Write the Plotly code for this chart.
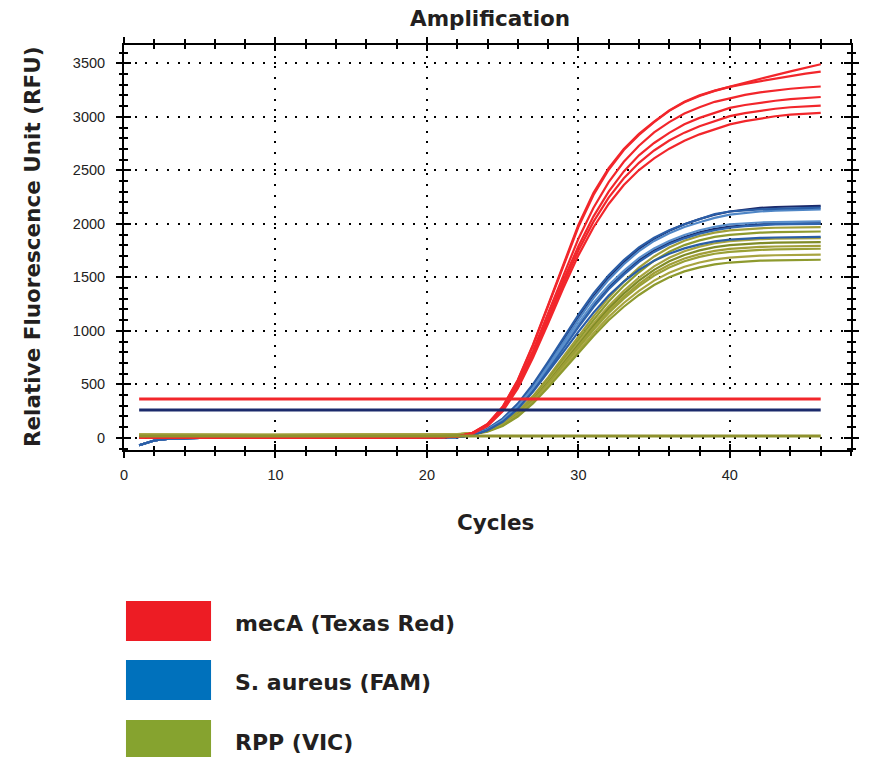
import plotly.graph_objects as go

# ---------------- data ----------------
cycles = list(range(1, 47))

# baseline readings, cycles 1-21
red_base = [4, 3, 2, 2, 1, 1, 1, 0, 0, 0, 0, 0, 0, 0, 0, 1, 1, 1, 2, 3, 5]
blue_base = [-70, -25, -8, -3, -1, 0, 0, 0, 0, 0, 0, 0, 0, 0, 0, 0, 1, 1, 1, 2, 3]
green_base_hi = [30, 29, 28, 28, 28, 28, 28, 28, 28, 28, 28, 28, 28, 28, 28, 28, 28, 28, 28, 28, 29]
green_base_lo = [8, 8, 8, 8, 8, 8, 8, 8, 8, 8, 8, 8, 8, 8, 8, 8, 8, 9, 10, 12, 16]

# mecA (Texas Red) curves, cycles 22-46
mecA_1 = red_base + [12, 45, 130, 290, 540, 870, 1240, 1620, 1990, 2290, 2520, 2700, 2840, 2955, 3060, 3140, 3200, 3245, 3283, 3320, 3355, 3390, 3425, 3460, 3491]
mecA_2 = red_base + [12, 45, 128, 287, 535, 862, 1230, 1605, 1970, 2270, 2505, 2690, 2830, 2950, 3055, 3135, 3195, 3242, 3280, 3308, 3333, 3358, 3382, 3403, 3422]
mecA_3 = red_base + [11, 42, 122, 272, 505, 815, 1165, 1520, 1860, 2150, 2390, 2580, 2730, 2855, 2950, 3030, 3090, 3140, 3176, 3205, 3228, 3247, 3262, 3274, 3283]
mecA_4 = red_base + [11, 41, 118, 262, 490, 790, 1125, 1470, 1790, 2070, 2300, 2490, 2640, 2755, 2850, 2930, 2990, 3040, 3083, 3110, 3133, 3150, 3165, 3176, 3185]
mecA_5 = red_base + [10, 40, 115, 255, 475, 768, 1095, 1435, 1750, 2020, 2245, 2425, 2570, 2685, 2778, 2852, 2912, 2962, 3006, 3035, 3058, 3075, 3089, 3098, 3105]
mecA_6 = red_base + [10, 38, 110, 248, 462, 748, 1068, 1398, 1705, 1968, 2185, 2362, 2502, 2612, 2702, 2777, 2836, 2886, 2929, 2960, 2985, 3005, 3020, 3030, 3037]

# S. aureus (FAM) curves, cycles 22-46
saur_1 = blue_base + [8, 30, 85, 180, 320, 500, 710, 930, 1150, 1350, 1520, 1660, 1780, 1870, 1940, 1995, 2040, 2090, 2115, 2127, 2135, 2140, 2145, 2148, 2152]
saur_2 = blue_base + [7, 28, 80, 172, 308, 485, 690, 905, 1122, 1322, 1495, 1640, 1765, 1860, 1935, 1995, 2045, 2085, 2115, 2135, 2148, 2157, 2162, 2166, 2168]
saur_3 = blue_base + [7, 27, 78, 168, 300, 475, 678, 890, 1105, 1305, 1478, 1622, 1745, 1840, 1912, 1970, 2015, 2055, 2085, 2103, 2115, 2123, 2128, 2132, 2135]
saur_4 = blue_base + [7, 27, 78, 165, 295, 465, 660, 865, 1070, 1260, 1425, 1560, 1680, 1770, 1840, 1895, 1940, 1972, 1995, 2005, 2012, 2016, 2019, 2021, 2022]
saur_5 = blue_base + [6, 25, 74, 158, 285, 450, 642, 845, 1048, 1238, 1403, 1540, 1660, 1752, 1822, 1877, 1920, 1952, 1975, 1988, 1996, 2001, 2004, 2006, 2008]
saur_6 = blue_base + [6, 24, 72, 155, 280, 443, 632, 833, 1035, 1222, 1388, 1525, 1644, 1737, 1808, 1864, 1908, 1940, 1963, 1978, 1988, 1994, 1997, 1999, 2000]
saur_7 = blue_base + [6, 24, 70, 150, 270, 430, 610, 800, 990, 1170, 1330, 1460, 1570, 1655, 1720, 1770, 1808, 1835, 1852, 1862, 1868, 1872, 1875, 1877, 1878]

# RPP (VIC) curves, cycles 22-46
rpp_1 = green_base_hi + [34, 46, 78, 140, 245, 390, 565, 755, 950, 1135, 1310, 1460, 1590, 1695, 1778, 1842, 1886, 1918, 1938, 1950, 1958, 1963, 1966, 1968, 1969]
rpp_2 = green_base_lo + [24, 35, 66, 127, 230, 372, 543, 729, 920, 1101, 1273, 1420, 1547, 1655, 1738, 1801, 1845, 1878, 1897, 1909, 1917, 1922, 1925, 1927, 1928]
rpp_3 = green_base_hi + [33, 44, 72, 128, 226, 362, 528, 708, 892, 1068, 1232, 1375, 1498, 1602, 1683, 1744, 1787, 1818, 1837, 1849, 1856, 1861, 1864, 1865, 1866]
rpp_4 = green_base_lo + [23, 34, 63, 121, 218, 353, 516, 692, 873, 1045, 1208, 1347, 1468, 1570, 1649, 1709, 1751, 1782, 1800, 1812, 1819, 1824, 1826, 1828, 1829]
rpp_5 = green_base_hi + [33, 43, 68, 122, 216, 348, 507, 680, 856, 1025, 1184, 1321, 1439, 1540, 1617, 1676, 1717, 1747, 1765, 1776, 1784, 1788, 1791, 1793, 1794]
rpp_6 = green_base_lo + [22, 33, 61, 117, 211, 341, 498, 668, 843, 1009, 1166, 1301, 1417, 1516, 1592, 1650, 1691, 1720, 1738, 1749, 1756, 1761, 1763, 1765, 1767]
rpp_7 = green_base_hi + [32, 42, 66, 117, 206, 331, 483, 647, 817, 978, 1130, 1260, 1373, 1469, 1542, 1599, 1638, 1667, 1684, 1695, 1702, 1706, 1708, 1710, 1711]
rpp_8 = green_base_lo + [22, 32, 58, 110, 199, 321, 469, 630, 794, 951, 1099, 1225, 1335, 1428, 1500, 1555, 1593, 1621, 1638, 1648, 1655, 1659, 1661, 1663, 1664]

# threshold levels
threshold_cycles = [1, 46]
thr_mecA = [362, 362]
thr_saur = [260, 260]
thr_rpp = [18, 18]

legend_labels = ["mecA (Texas Red)", "S. aureus (FAM)", "RPP (VIC)"]
legend_colors = ["#ED1C24", "#0071BC", "#86A32F"]

# ---------------- figure ----------------
fig = go.Figure()

green_cols = ["#A19E38", "#8E9A2E", "#A8A440", "#7F8B27", "#A19E38", "#9AA036", "#A8A440", "#8E9A2E"]
for ys, c in zip([rpp_1, rpp_2, rpp_3, rpp_4, rpp_5, rpp_6, rpp_7, rpp_8], green_cols):
    fig.add_trace(go.Scatter(x=cycles, y=ys, mode="lines", line=dict(color=c, width=2.2),
                             showlegend=False, hoverinfo="skip"))

blue_cols = ["#1B2A6B", "#4F86C6", "#2A5DA6", "#1B2A6B", "#2E64AE", "#5A8FCB", "#2A5DA6"]
for ys, c in zip([saur_2, saur_3, saur_1, saur_5, saur_6, saur_4, saur_7], blue_cols):
    fig.add_trace(go.Scatter(x=cycles, y=ys, mode="lines", line=dict(color=c, width=2.2),
                             showlegend=False, hoverinfo="skip"))

for ys in [mecA_1, mecA_2, mecA_3, mecA_4, mecA_5, mecA_6]:
    fig.add_trace(go.Scatter(x=cycles, y=ys, mode="lines", line=dict(color="#F2262B", width=2.2),
                             showlegend=False, hoverinfo="skip"))

for ys, c in zip([thr_rpp, thr_saur, thr_mecA], ["#8F922E", "#1B2A6B", "#F2262B"]):
    fig.add_trace(go.Scatter(x=threshold_cycles, y=ys, mode="lines", line=dict(color=c, width=3),
                             showlegend=False, hoverinfo="skip"))

# invisible trace on overlay axes (inner halves of the crossing ticks)
fig.add_trace(go.Scatter(x=[0], y=[0], xaxis="x2", yaxis="y2", mode="markers",
                         marker=dict(opacity=0), showlegend=False, hoverinfo="skip"))

XR = [0, 48]
YR = [-114, 3671]
tickfont = dict(family="Liberation Sans, Arial", size=14.5, color="#222222")

fig.update_layout(
    width=871, height=757,
    margin=dict(l=124, r=12, t=45, b=307),
    paper_bgcolor="white", plot_bgcolor="white",
    xaxis=dict(range=XR, tickvals=[0, 10, 20, 30, 40], ticks="outside", ticklen=6, tickwidth=2,
               tickcolor="black", showline=True, linewidth=2, linecolor="black", mirror="ticks",
               showgrid=True, gridcolor="black", gridwidth=2, griddash="2px,8.7px",
               zeroline=False, tickfont=tickfont, ticklabelstandoff=5,
               minor=dict(dtick=2, ticks="outside", ticklen=4, tickwidth=1.5, tickcolor="black", showgrid=False)),
    yaxis=dict(range=YR, tickvals=[0, 500, 1000, 1500, 2000, 2500, 3000, 3500], ticks="outside", ticklen=6,
               tickwidth=2, tickcolor="black", showline=True, linewidth=2, linecolor="black", mirror="ticks",
               showgrid=True, gridcolor="black", gridwidth=2, griddash="2px,8.7px",
               zeroline=False, tickfont=tickfont, ticklabelstandoff=8,
               minor=dict(dtick=100, ticks="outside", ticklen=3, tickwidth=1.5, tickcolor="black", showgrid=False)),
    xaxis2=dict(range=XR, overlaying="x", anchor="y2", side="bottom", tickvals=[0, 10, 20, 30, 40],
                ticks="inside", ticklen=6, tickwidth=2, tickcolor="black", showticklabels=False,
                showline=True, linewidth=2, linecolor="black", mirror="ticks", showgrid=False, zeroline=False,
                minor=dict(dtick=2, ticks="inside", ticklen=4, tickwidth=1.5, tickcolor="black", showgrid=False)),
    yaxis2=dict(range=YR, overlaying="y", anchor="x2", side="left",
                tickvals=[0, 500, 1000, 1500, 2000, 2500, 3000, 3500],
                ticks="inside", ticklen=7, tickwidth=2, tickcolor="black", showticklabels=False,
                showline=True, linewidth=2, linecolor="black", mirror="ticks", showgrid=False, zeroline=False,
                minor=dict(dtick=100, ticks="inside", ticklen=4, tickwidth=1.5, tickcolor="black", showgrid=False)),
    showlegend=False,
)

bold = dict(family="DejaVu Sans", size=21.5, color="#231F20", weight="bold")

fig.add_annotation(text="Amplification", x=(494 - 124) / 735, y=(450 - 18) / 405, xref="paper", yref="paper",
                   xanchor="center", yanchor="middle", showarrow=False, font=bold)
fig.add_annotation(text="Cycles", x=(500 - 124) / 735, y=(450 - 522) / 405, xref="paper", yref="paper",
                   xanchor="center", yanchor="middle", showarrow=False, font=bold)
fig.add_annotation(text="Relative Fluorescence Unit (RFU)", x=(31 - 124) / 735, y=(450 - 247) / 405,
                   xref="paper", yref="paper", xanchor="center", yanchor="middle", textangle=-90,
                   showarrow=False, font=bold)

# legend swatches and labels
rect_tops = [601, 660, 720]
for lab, col, top in zip(legend_labels, legend_colors, rect_tops):
    fig.add_shape(type="rect", xref="paper", yref="paper",
                  x0=(126 - 124) / 735, x1=(212 - 124) / 735,
                  y0=(450 - (top + 40)) / 405, y1=(450 - top) / 405,
                  fillcolor=col, line=dict(width=0))
    fig.add_annotation(text=lab, x=(234 - 124) / 735, y=(450 - (top + 22)) / 405, xref="paper", yref="paper",
                       xanchor="left", yanchor="middle", showarrow=False,
                       font=dict(family="DejaVu Sans", size=22, color="#231F20", weight="bold"))

fig.write_html("out.html", config={"displayModeBar": False},
               post_script="document.body.style.margin='0';")
